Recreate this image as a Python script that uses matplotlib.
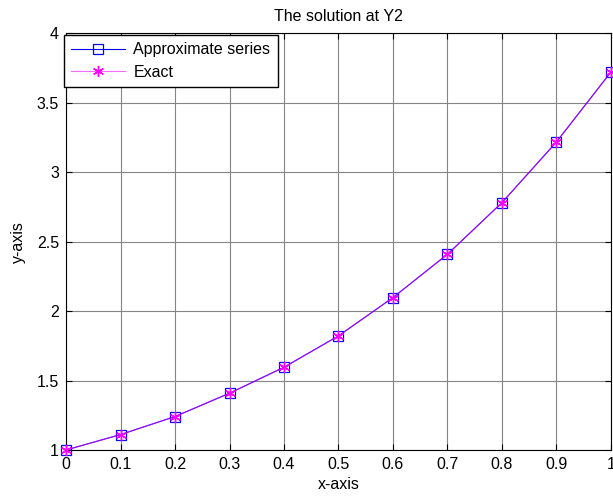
import matplotlib
matplotlib.use("Agg")
import matplotlib.pyplot as plt

# Values
x_vals = [0.0, 0.1, 0.2, 0.3, 0.4, 0.5, 0.6, 0.7, 0.8, 0.9, 1.0]
approx_vals = [1.000, 1.111, 1.241, 1.409, 1.596, 1.822, 2.098, 2.410, 2.782, 3.219, 3.723]
exact_vals = [1.000, 1.111, 1.241, 1.409, 1.596, 1.822, 2.098, 2.410, 2.782, 3.219, 3.723]

x_ticks = [0, 0.1, 0.2, 0.3, 0.4, 0.5, 0.6, 0.7, 0.8, 0.9, 1]
x_tick_labels = ["0", "0.1", "0.2", "0.3", "0.4", "0.5", "0.6", "0.7", "0.8", "0.9", "1"]
y_ticks = [1, 1.5, 2, 2.5, 3, 3.5, 4]
y_tick_labels = ["1", "1.5", "2", "2.5", "3", "3.5", "4"]

plt.rcParams["font.family"] = ["Liberation Sans", "DejaVu Sans"]
plt.rcParams["font.size"] = 11.5

fig = plt.figure(figsize=(6.13, 4.97), dpi=100)
ax = fig.add_axes([0.1077, 0.0946, 0.889, 0.838])

# MATLAB-style asterisk marker: 6-armed line star
asterisk = (6, 2, 0)

ax.plot(x_vals, approx_vals, color="#0000ff", linewidth=0.8, marker="s",
        markersize=7.5, markerfacecolor="none", markeredgecolor="#0000ff",
        markeredgewidth=0.9, label="Approximate series", clip_on=False,
        zorder=3)
# translucent magenta line over the blue one gives the purple look,
# the asterisks themselves stay fully magenta
ax.plot(x_vals, exact_vals, color=(1, 0, 1, 0.6), linewidth=0.8,
        marker=asterisk, markersize=8, markeredgecolor="#ff00ff",
        markeredgewidth=1.0, label="Exact", clip_on=False, zorder=4)

ax.set_xlim(0, 1)
ax.set_ylim(1, 4)
ax.set_xticks(x_ticks)
ax.set_xticklabels(x_tick_labels)
ax.set_yticks(y_ticks)
ax.set_yticklabels(y_tick_labels)
ax.tick_params(direction="in", length=4, width=0.8, color="black",
               top=True, right=True, pad=5)
ax.grid(True, color="#858585", linewidth=0.8, linestyle="-")
for side in ax.spines.values():
    side.set_color("black")
    side.set_linewidth(0.8)

ax.set_title("The solution at Y2", fontsize=11.5, pad=9)
ax.set_xlabel("x-axis", labelpad=4)
ax.set_ylabel("y-axis", labelpad=8)

leg = ax.legend(loc="upper left", bbox_to_anchor=(-0.004, 0.996),
                borderaxespad=0, fancybox=False, framealpha=1,
                edgecolor="black", handlelength=3.4, handletextpad=0.5,
                borderpad=0.45, labelspacing=0.45)
leg.get_frame().set_linewidth(1.0)

fig.savefig("out.png", dpi=100)
